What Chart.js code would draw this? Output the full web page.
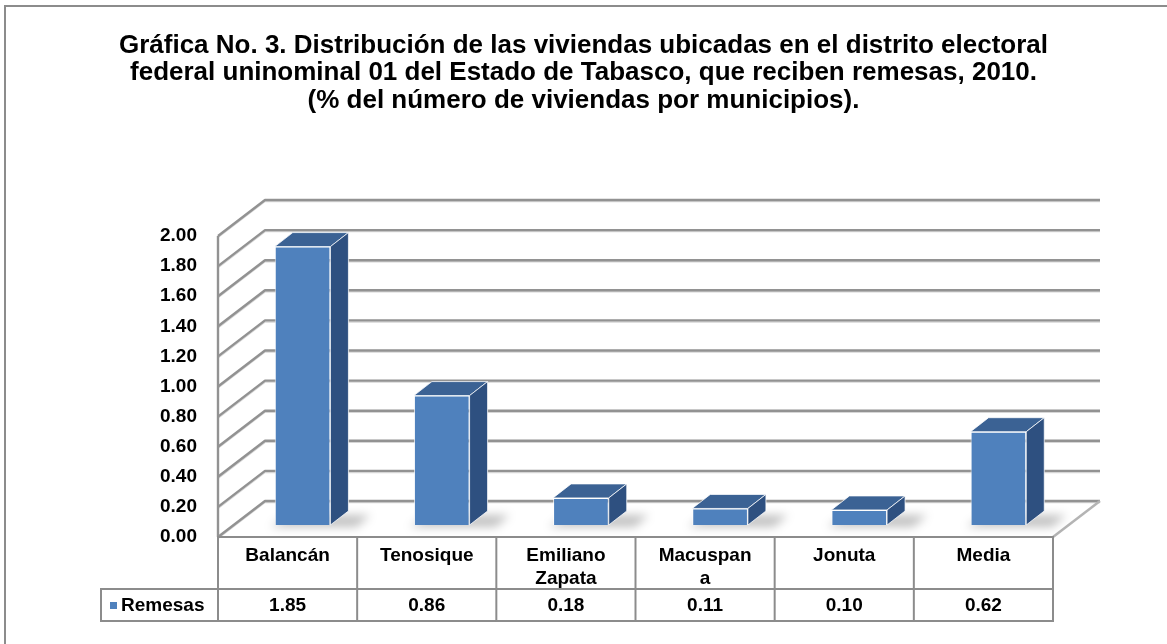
<!DOCTYPE html>
<html lang="es">
<head>
<meta charset="utf-8">
<title>Gráfica No. 3</title>
<script src="https://cdn.jsdelivr.net/npm/chart.js@4.4.0/dist/chart.umd.min.js"></script>
<style>
  html, body { margin: 0; padding: 0; background: #fff; }
  #grafica { display: block; }
</style>
</head>
<body>
<canvas id="grafica" width="1167" height="644"></canvas>
<script>
// --- Datos ---
const categorias = [['Balancán'], ['Tenosique'], ['Emiliano', 'Zapata'], ['Macuspan', 'a'], ['Jonuta'], ['Media']];
const remesas = [1.85, 0.86, 0.18, 0.11, 0.10, 0.62];
const serieNombre = 'Remesas';
const yMin = 0;
const yMax = 2;
const yPaso = 0.2;
const titulo = [
    'Gráfica No. 3. Distribución de las viviendas ubicadas en el distrito electoral',
    'federal uninominal 01 del Estado de Tabasco, que reciben remesas, 2010.',
    '(% del número de viviendas por municipios).'
];

// --- Estilo ---
const FUENTE = '"Liberation Sans", Arial, sans-serif';
const AZUL = '#4F81BD';
const AZUL_TAPA = '#3B6294';
const AZUL_LADO = '#2E5080';
const GRIS_REJILLA = '#929292';
const GRIS_TABLA = '#8c8c8c';
const PROF = { x: 47, y: -36 };        // profundidad de las paredes
const BARRA_DESP = { x: 15, y: -12 };  // las barras quedan a media profundidad
const BARRA_PROF = { x: 18, y: -14 };  // grosor de cada barra

function linea(ctx, puntos, color, ancho) {
    ctx.beginPath();
    puntos.forEach(([px, py], i) => (i ? ctx.lineTo(px, py) : ctx.moveTo(px, py)));
    ctx.strokeStyle = color;
    ctx.lineWidth = ancho;
    ctx.stroke();
}

function poligono(ctx, puntos, relleno, borde) {
    ctx.beginPath();
    puntos.forEach(([px, py], i) => (i ? ctx.lineTo(px, py) : ctx.moveTo(px, py)));
    ctx.closePath();
    ctx.fillStyle = relleno;
    ctx.fill();
    if (borde) {
        ctx.strokeStyle = borde;
        ctx.lineWidth = 1;
        ctx.stroke();
    }
}

// --- Plugin: paredes 3D, caras de las barras y tabla de datos ---
const escena3d = {
    id: 'escena3d',
    beforeDraw(chart) {
        const { ctx, width, height } = chart;
        ctx.save();
        ctx.fillStyle = '#fff';
        ctx.fillRect(0, 0, width, height);
        ctx.strokeStyle = GRIS_TABLA;
        ctx.lineWidth = 2;
        ctx.strokeRect(5, 6, width + 20, height + 20);
        ctx.restore();
    },
    beforeDatasetsDraw(chart) {
        const { ctx, chartArea: a } = chart;
        const y = chart.scales.y;
        const y0 = y.getPixelForValue(yMin);
        ctx.save();
        ctx.lineJoin = 'round';

        // rejilla sobre la pared del fondo y la pared izquierda
        for (let i = 0; i <= Math.round((yMax - yMin) / yPaso); i++) {
            const yf = y.getPixelForValue(yMin + i * yPaso);
            const yb = yf + PROF.y;
            linea(ctx, [[a.left, yf + 1.5], [a.left + PROF.x, yb + 1.5], [a.right + PROF.x, yb + 1.5]], '#d6d6d6', 1.5);
            linea(ctx, [[a.left, yf], [a.left + PROF.x, yb], [a.right + PROF.x, yb]], GRIS_REJILLA, 2.4);
        }
        // arista frontal de la pared izquierda y borde derecho del piso
        linea(ctx, [[a.left, y.getPixelForValue(yMax)], [a.left, y0]], GRIS_REJILLA, 2.4);
        linea(ctx, [[a.right, y0], [a.right + PROF.x, y0 + PROF.y]], '#b4b4b4', 2.5);

        // sombras de las barras sobre el piso
        const meta = chart.getDatasetMeta(0);
        ctx.filter = 'blur(5px)';
        meta.data.forEach(bar => {
            const l = bar.x - bar.width / 2 + BARRA_DESP.x;
            const r = bar.x + bar.width / 2 + BARRA_DESP.x;
            const b = bar.base + BARRA_DESP.y;
            poligono(ctx, [[l - 4, b + 2], [r + 26, b + 2], [r + 40, b - 10], [l + 14, b - 10]], 'rgba(0, 0, 0, 0.24)');
        });
        ctx.filter = 'none';
        ctx.restore();
    },
    beforeDatasetDraw(chart) {
        chart.ctx.save();
        chart.ctx.translate(BARRA_DESP.x, BARRA_DESP.y);
    },
    afterDatasetDraw(chart, args) {
        const ctx = chart.ctx;
        const dx = BARRA_PROF.x;
        const dy = BARRA_PROF.y;
        args.meta.data.forEach(bar => {
            const { x, y, base, width } = bar.getProps(['x', 'y', 'base', 'width'], true);
            const l = x - width / 2;
            const r = x + width / 2;
            poligono(ctx, [[l, y], [l + dx, y + dy], [r + dx, y + dy], [r, y]], AZUL_TAPA, 'rgba(255,255,255,0.75)');
            poligono(ctx, [[r, y], [r + dx, y + dy], [r + dx, base + dy], [r, base]], AZUL_LADO, 'rgba(255,255,255,0.75)');
        });
        ctx.restore();
    },
    afterDraw(chart) {
        const { ctx, chartArea: a } = chart;
        const xs = chart.scales.x;
        const y0 = chart.scales.y.getPixelForValue(yMin);
        const paso = (a.right - a.left) / categorias.length;
        const filaCab = y0 + 52;
        const filaFin = y0 + 84;
        const leyIzq = 101;

        ctx.save();
        ctx.lineCap = 'square';
        // líneas de la tabla
        linea(ctx, [[a.left, y0], [a.right, y0]], GRIS_TABLA, 2);
        linea(ctx, [[leyIzq, filaCab], [a.right, filaCab]], GRIS_TABLA, 2);
        linea(ctx, [[leyIzq, filaFin], [a.right, filaFin]], GRIS_TABLA, 2);
        linea(ctx, [[leyIzq, filaCab], [leyIzq, filaFin]], GRIS_TABLA, 2);
        for (let i = 0; i <= categorias.length; i++) {
            const xe = a.left + i * paso;
            linea(ctx, [[xe, y0], [xe, filaFin]], GRIS_TABLA, 2);
        }

        // textos
        ctx.fillStyle = '#000';
        ctx.font = 'bold 19px ' + FUENTE;
        ctx.textAlign = 'center';
        ctx.textBaseline = 'middle';
        categorias.forEach((lineas, i) => {
            const cx = xs.getPixelForValue(i);
            lineas.forEach((t, k) => ctx.fillText(t, cx, y0 + 19 + k * 23));
            ctx.fillText(remesas[i].toFixed(2), cx, filaCab + 17);
        });

        // leyenda
        ctx.fillStyle = AZUL;
        ctx.fillRect(110, filaCab + 13, 7, 7);
        ctx.fillStyle = '#000';
        ctx.textAlign = 'left';
        ctx.fillText(serieNombre, 121, filaCab + 17);
        ctx.restore();
    }
};

// --- Gráfica ---
Chart.defaults.font.family = FUENTE;
Chart.defaults.color = '#000';

const ctx = document.getElementById('grafica').getContext('2d');
const chart = new Chart(ctx, {
    type: 'bar',
    data: {
        labels: categorias,
        datasets: [{
            label: serieNombre,
            data: remesas,
            backgroundColor: AZUL,
            borderColor: 'rgba(255, 255, 255, 0.8)',
            borderWidth: 1,
            barPercentage: 0.4,
            categoryPercentage: 1.0
        }]
    },
    options: {
        responsive: false,
        devicePixelRatio: 1,
        animation: false,
        layout: {
            padding: { left: 0, right: 0, top: 0, bottom: 107 }
        },
        scales: {
            x: { display: false },
            y: {
                min: yMin,
                max: yMax,
                grid: { display: false, drawTicks: false },
                border: { display: false },
                ticks: {
                    stepSize: yPaso,
                    padding: 21,
                    font: { size: 19, weight: 'bold' },
                    callback: (v) => Number(v).toFixed(2)
                },
                afterFit: (scale) => { scale.width = 218; }
            },
            // eje vacío a la derecha: deja sitio para la profundidad del piso
            margen: {
                position: 'right',
                grid: { display: false, drawTicks: false },
                border: { display: false },
                ticks: { display: false },
                afterFit: (scale) => { scale.width = 114; }
            }
        },
        plugins: {
            legend: { display: false },
            tooltip: { enabled: false },
            title: {
                display: true,
                text: titulo,
                color: '#000',
                font: { size: 26, weight: 'bold', lineHeight: 1.058 },
                padding: { top: 32, bottom: 121.5 }
            }
        }
    },
    plugins: [escena3d]
});
</script>
</body>
</html>
